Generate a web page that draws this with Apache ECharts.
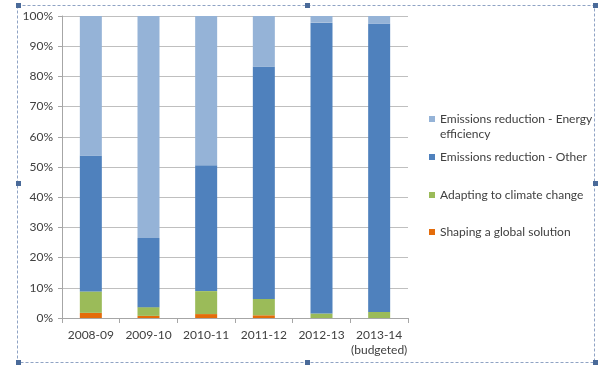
<!DOCTYPE html>
<html><head><meta charset="utf-8">
<script src="https://cdn.jsdelivr.net/npm/echarts@6/dist/echarts.min.js"></script>
<style>html,body{margin:0;padding:0;background:#fff}#c{width:614px;height:372px}</style>
</head><body><div id="c"></div>
<script>
var categories = ['2008-09', '2009-10', '2010-11', '2011-12', '2012-13', '2013-14\n(budgeted)'];
var shaping = [1.7, 0.7, 1.3, 0.9, 0, 0];
var adapting = [7.1, 2.9, 7.6, 5.4, 1.5, 2.0];
var erOther = [45.0, 22.9, 41.7, 77.0, 96.3, 95.4];
var erEnergy = [46.2, 73.5, 49.4, 16.7, 2.2, 2.6];
var seriesNames = ['Shaping a global solution', 'Adapting to climate change', 'Emissions reduction - Other', 'Emissions reduction - Energy efficiency'];
var yTicks = [0, 10, 20, 30, 40, 50, 60, 70, 80, 90, 100];

var FONT = 'Lato';
var FS = 12;
var colors = ['#E46C0A', '#9BBB59', '#4F81BD', '#95B3D7'];
var dataSets = [shaping, adapting, erOther, erEnergy];

var chart = echarts.init(document.getElementById('c'), null, {renderer: 'canvas'});
function legendFor(name, top, label) {
  return {
    data: [name], left: 429, top: top, orient: 'vertical', icon: 'rect',
    itemWidth: 6, itemHeight: 6, padding: 0, selectedMode: false,
    formatter: function () { return label || name; },
    textStyle: {fontFamily: FONT, fontSize: FS, color: '#404040', lineHeight: 14}
  };
}
var handleColor = '#4A6A99';
function handle(x, y) {
  return {type: 'rect', shape: {x: x - 2, y: y - 2, width: 5, height: 5}, style: {fill: handleColor}, silent: true};
}
var option = {
  animation: false,
  grid: {left: 62, right: 206, top: 16, bottom: 54, containLabel: false},
  xAxis: {
    type: 'category', data: categories,
    axisLine: {lineStyle: {color: '#A6A6A6', width: 1}},
    axisTick: {show: true, length: 5, lineStyle: {color: '#A6A6A6'}},
    axisLabel: {fontFamily: FONT, fontSize: FS, color: '#404040', margin: 10, lineHeight: 15, interval: 0}
  },
  yAxis: {
    type: 'value', min: yTicks[0], max: yTicks[yTicks.length - 1], interval: 10,
    axisLine: {show: true, lineStyle: {color: '#A6A6A6'}},
    axisTick: {show: true, length: 4, lineStyle: {color: '#A6A6A6'}},
    splitLine: {lineStyle: {color: '#BFBFBF', width: 1}},
    axisLabel: {formatter: '{value}%', fontFamily: FONT, fontSize: FS, color: '#404040', margin: 9}
  },
  legend: [
    legendFor(seriesNames[3], 112, 'Emissions reduction - Energy'),
    legendFor(seriesNames[2], 150),
    legendFor(seriesNames[1], 188),
    legendFor(seriesNames[0], 225)
  ],
  series: dataSets.map(function (d, i) {
    return {
      name: seriesNames[i], type: 'bar', stack: 'total', data: d,
      barWidth: 22, itemStyle: {color: colors[i]}, emphasis: {disabled: true}
    };
  }),
  graphic: [
    {type: 'text', left: 440, top: 128, style: {text: 'efficiency', fontFamily: FONT, fontSize: FS, fill: '#404040'}, silent: true},
    {type: 'rect', shape: {x: 17.5, y: 5.5, width: 577, height: 357}, style: {fill: null, stroke: '#8FA3C4', lineWidth: 1, lineDash: [3, 2]}, silent: true},
    handle(18, 5), handle(307, 5), handle(595, 5),
    handle(18, 183), handle(595, 183),
    handle(18, 362), handle(307, 362), handle(595, 362)
  ]
};
chart.setOption(option);
</script></body></html>
